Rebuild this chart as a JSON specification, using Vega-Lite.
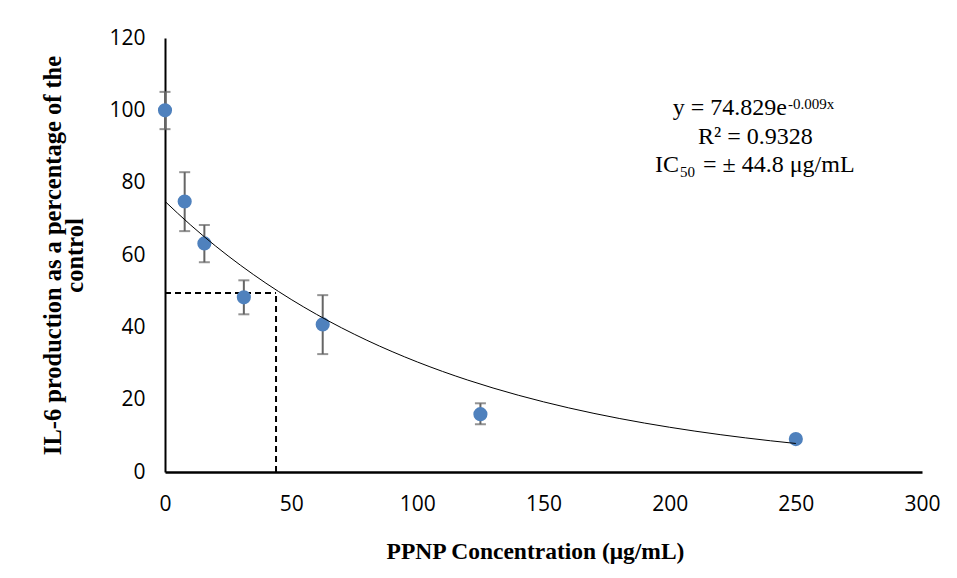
{
  "$schema": "https://vega.github.io/schema/vega-lite/v6.json",
  "width": 757,
  "height": 434,
  "autosize": {"type": "none"},
  "padding": {"left": 165, "top": 38, "right": 35, "bottom": 106},
  "background": "white",
  "config": {
    "view": {"stroke": null},
    "axis": {"grid": false, "ticks": false, "tickSize": 0, "labelFlush": false, "domainColor": "#000000", "labelFont": "Open Sans", "labelFontSize": 21, "labelColor": "#000000", "titleFont": "Liberation Serif", "titleFontWeight": "bold", "titleColor": "#000000"}
  },
  "datasets": {
    "obs": [
      {"conc": 0, "pct": 100, "lo": 94.8, "hi": 105.1},
      {"conc": 7.8, "pct": 74.8, "lo": 66.6, "hi": 82.9},
      {"conc": 15.6, "pct": 63.2, "lo": 58.0, "hi": 68.3},
      {"conc": 31.25, "pct": 48.3, "lo": 43.6, "hi": 53.0},
      {"conc": 62.5, "pct": 40.8, "lo": 32.6, "hi": 48.9},
      {"conc": 125, "pct": 16.0, "lo": 13.2, "hi": 19.0},
      {"conc": 250, "pct": 9.1, "lo": null, "hi": null}
    ],
    "fit": [
      {"conc": 0, "pct": 74.829}, {"conc": 10, "pct": 68.388}, {"conc": 20, "pct": 62.502},
      {"conc": 30, "pct": 57.123}, {"conc": 40, "pct": 52.206}, {"conc": 50, "pct": 47.713},
      {"conc": 60, "pct": 43.606}, {"conc": 70, "pct": 39.853}, {"conc": 80, "pct": 36.423},
      {"conc": 90, "pct": 33.288}, {"conc": 100, "pct": 30.423}, {"conc": 110, "pct": 27.805},
      {"conc": 120, "pct": 25.411}, {"conc": 130, "pct": 23.224}, {"conc": 140, "pct": 21.226},
      {"conc": 150, "pct": 19.399}, {"conc": 160, "pct": 17.729}, {"conc": 170, "pct": 16.203},
      {"conc": 180, "pct": 14.809}, {"conc": 190, "pct": 13.534}, {"conc": 200, "pct": 12.369},
      {"conc": 210, "pct": 11.305}, {"conc": 220, "pct": 10.332}, {"conc": 230, "pct": 9.442},
      {"conc": 240, "pct": 8.630}, {"conc": 250, "pct": 7.887}
    ],
    "ic50": [
      {"conc": 0, "pct": 49.5, "conc2": 44, "pct2": 49.5},
      {"conc": 44, "pct": 0, "conc2": 44, "pct2": 49.5}
    ],
    "notes": [
      {"part": "right", "label": "y = 74.829e", "conc": 246.5, "pct": 98.6},
      {"part": "right", "label": "IC", "conc": 203.7, "pct": 82.9},
      {"part": "center", "label": "R² = 0.9328", "conc": 234.0, "pct": 90.7},
      {"part": "left", "label": "= ± 44.8 μg/mL", "conc": 213.2, "pct": 82.9},
      {"part": "small", "label": "-0.009x", "conc": 246.5, "pct": 100.3},
      {"part": "small", "label": "50", "conc": 203.7, "pct": 81.6}
    ]
  },
  "encoding": {
    "x": {"field": "conc", "type": "quantitative", "scale": {"domain": [0, 300], "nice": false},
      "axis": {"values": [0, 50, 100, 150, 200, 250, 300], "domainWidth": 2.5, "labelPadding": 21,
        "title": "PPNP Concentration (μg/mL)", "titleFontSize": 23.5, "titleX": 370, "titleY": 86, "titleBaseline": "alphabetic", "titleAlign": "center"}},
    "y": {"field": "pct", "type": "quantitative", "scale": {"domain": [0, 120], "nice": false},
      "axis": {"values": [0, 20, 40, 60, 80, 100, 120], "domainWidth": 2, "labelPadding": 20,
        "title": ["IL-6 production as a percentage of the", "control"], "titleFontSize": 24.5, "titleX": -112, "titleY": 217, "titleAngle": -90,
        "titleAlign": "center", "titleBaseline": "middle", "titleLineHeight": 22}}
  },
  "layer": [
    {
      "data": {"name": "ic50"},
      "mark": {"type": "rule", "color": "#000000", "strokeWidth": 2, "strokeDash": [6, 4]},
      "encoding": {"x2": {"field": "conc2"}, "y2": {"field": "pct2"}}
    },
    {
      "data": {"name": "obs"},
      "transform": [{"filter": "datum.lo != null"}],
      "mark": {"type": "rule", "color": "#656565", "strokeWidth": 2},
      "encoding": {"y": {"field": "lo", "type": "quantitative"}, "y2": {"field": "hi"}}
    },
    {
      "data": {"name": "obs"},
      "transform": [{"filter": "datum.lo != null"}],
      "mark": {"type": "tick", "orient": "horizontal", "color": "#656565", "thickness": 2, "size": 11},
      "encoding": {"y": {"field": "lo", "type": "quantitative"}}
    },
    {
      "data": {"name": "obs"},
      "transform": [{"filter": "datum.hi != null"}],
      "mark": {"type": "tick", "orient": "horizontal", "color": "#656565", "thickness": 2, "size": 11},
      "encoding": {"y": {"field": "hi", "type": "quantitative"}}
    },
    {
      "data": {"name": "obs"},
      "mark": {"type": "point", "filled": true, "shape": "circle", "size": 200, "color": "#4f81bd", "opacity": 1}
    },
    {
      "data": {"name": "fit"},
      "mark": {"type": "line", "color": "#000000", "strokeWidth": 1, "interpolate": "monotone"}
    },
    {
      "data": {"name": "notes"},
      "transform": [{"filter": "datum.part == 'right'"}],
      "mark": {"type": "text", "align": "right", "baseline": "alphabetic", "font": "Liberation Serif", "fontSize": 24, "color": "#000000"},
      "encoding": {"text": {"field": "label"}}
    },
    {
      "data": {"name": "notes"},
      "transform": [{"filter": "datum.part == 'center'"}],
      "mark": {"type": "text", "align": "center", "baseline": "alphabetic", "font": "Liberation Serif", "fontSize": 24, "color": "#000000"},
      "encoding": {"text": {"field": "label"}}
    },
    {
      "data": {"name": "notes"},
      "transform": [{"filter": "datum.part == 'left'"}],
      "mark": {"type": "text", "align": "left", "baseline": "alphabetic", "font": "Liberation Serif", "fontSize": 24, "color": "#000000"},
      "encoding": {"text": {"field": "label"}}
    },
    {
      "data": {"name": "notes"},
      "transform": [{"filter": "datum.part == 'small'"}],
      "mark": {"type": "text", "align": "left", "baseline": "alphabetic", "dx": 1, "font": "Liberation Serif", "fontSize": 15, "color": "#000000"},
      "encoding": {"text": {"field": "label"}}
    }
  ]
}
